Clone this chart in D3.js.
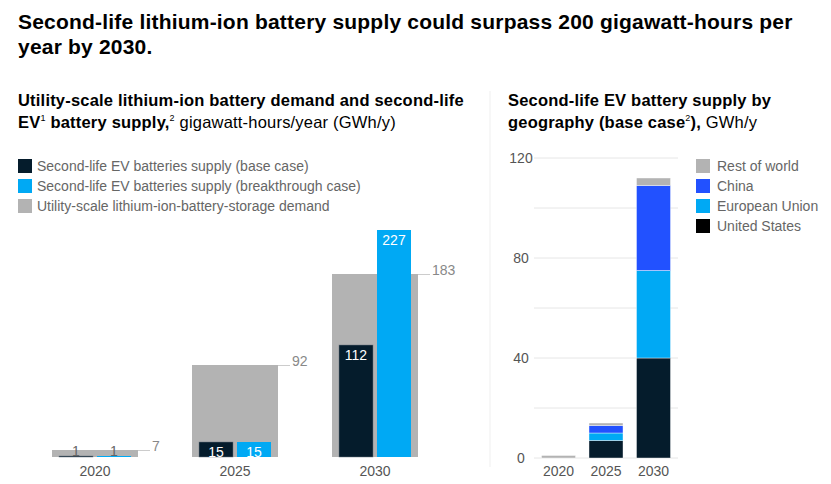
<!DOCTYPE html>
<html><head><meta charset="utf-8">
<script src="https://cdn.jsdelivr.net/npm/d3@7"></script>
<style>
body{margin:0;background:#fff;}
text{font-family:"Liberation Sans",Arial,sans-serif;}
</style></head>
<body><svg id="c" width="831" height="484"></svg>
<script>
// ---- data ----
const years = ["2020", "2025", "2030"];
const baseCase = [1, 15, 112];
const breakthroughCase = [1, 15, 227];
const storageDemand = [7, 92, 183];
const leftLegend = ["Second-life EV batteries supply (base case)", "Second-life EV batteries supply (breakthrough case)", "Utility-scale lithium-ion-battery-storage demand"];

const geoYears = ["2020", "2025", "2030"];
const unitedStates = [0, 7, 40];
const europeanUnion = [0, 3, 35];
const china = [0, 3, 34];
const restOfWorld = [1, 1, 3];
const geoLegend = ["Rest of world", "China", "European Union", "United States"];
const geoTicks = [0, 40, 80, 120];

const C = {navy:"#051c2c", blue:"#00a9f4", gray:"#b3b3b3", china:"#2251ff", us:"#000000"};

const svg = d3.select("#c");

// ---- titles ----
const t = svg.append("text").attr("font-size",21).attr("font-weight",700).attr("letter-spacing",0.2).attr("fill","#000");
t.append("tspan").attr("x",18).attr("y",29).text("Second-life lithium-ion battery supply could surpass 200 gigawatt-hours per");
t.append("tspan").attr("x",18).attr("y",54).text("year by 2030.");

const s1 = svg.append("text").attr("font-size",16.5).attr("letter-spacing",0.2).attr("fill","#000");
s1.append("tspan").attr("x",18).attr("y",106).attr("font-weight",700).text("Utility-scale lithium-ion battery demand and second-life");
s1.append("tspan").attr("x",18).attr("y",128).attr("font-weight",700).text("EV");
s1.append("tspan").attr("font-size",9).attr("dy",-7).text("1");
s1.append("tspan").attr("dy",7).attr("font-weight",700).text(" battery supply,");
s1.append("tspan").attr("font-size",9).attr("dy",-7).text("2");
s1.append("tspan").attr("dy",7).text(" gigawatt-hours/year (GWh/y)");

const s2 = svg.append("text").attr("font-size",16.5).attr("letter-spacing",0.2).attr("fill","#000");
s2.append("tspan").attr("x",508).attr("y",106).attr("font-weight",700).text("Second-life EV battery supply by");
s2.append("tspan").attr("x",508).attr("y",128).attr("font-weight",700).text("geography (base case");
s2.append("tspan").attr("font-size",9).attr("dy",-7).text("2");
s2.append("tspan").attr("dy",7).attr("font-weight",700).text("),");
s2.append("tspan").text(" GWh/y");

// divider
svg.append("line").attr("x1",490).attr("x2",490).attr("y1",91).attr("y2",467).attr("stroke","#efefef").attr("stroke-width",1);

// ---- left legend ----
const llg = svg.append("g");
const lcols = [C.navy, C.blue, C.gray];
leftLegend.forEach((d,i)=>{
  llg.append("rect").attr("x",18).attr("y",159+i*20).attr("width",14).attr("height",14).attr("fill",lcols[i]);
  llg.append("text").attr("x",37).attr("y",171+i*20).attr("font-size",14).attr("fill","#666").text(d);
});

// ---- left chart ----
const x0 = d3.scaleBand().domain(years).range([25,445]).paddingInner(0.3857).paddingOuter(0.1929);
const x1 = d3.scaleBand().domain(["base","break"]).range([7,79]).paddingInner(4/38);
const yL = d3.scaleLinear().domain([0,240]).range([457,217]);
const gl = svg.append("g");

years.forEach((yr,i)=>{
  const gx = x0(yr), bw = x0.bandwidth();
  gl.append("rect").attr("x",gx).attr("y",yL(storageDemand[i])).attr("width",bw).attr("height",yL(0)-yL(storageDemand[i])).attr("fill",C.gray);
  gl.append("line").attr("x1",gx+bw).attr("x2",gx+bw+12).attr("y1",yL(storageDemand[i])+0.5).attr("y2",yL(storageDemand[i])+0.5).attr("stroke","#cccccc");
  gl.append("text").attr("x",gx+bw+14).attr("y",yL(storageDemand[i])+1).attr("font-size",14).attr("fill","#888").text(storageDemand[i]);
  [[baseCase[i],"base",C.navy],[breakthroughCase[i],"break",C.blue]].forEach(([v,k,col])=>{
    const bx = gx + x1(k), by = yL(v);
    gl.append("rect").attr("x",bx).attr("y",by).attr("width",x1.bandwidth()).attr("height",yL(0)-by).attr("fill",col)
      .attr("stroke", k==="base" ? "#6b7680" : "none").attr("stroke-width",0.5);
    const inside = (yL(0)-by) > 12;
    gl.append("text").attr("x",bx+x1.bandwidth()/2).attr("y", inside ? by+15 : by).attr("text-anchor","middle")
      .attr("font-size",14).attr("fill", inside ? "#fff" : "#666").text(v);
  });
  gl.append("text").attr("x",gx+bw/2).attr("y",476).attr("text-anchor","middle").attr("font-size",14).attr("fill","#555").text(yr);
});

// ---- right chart ----
const xR = d3.scaleBand().domain(geoYears).range([534,678]).paddingInner(0.284).paddingOuter(0.158);
const yR = d3.scaleLinear().domain([0,120]).range([458,158]);
const gr = svg.append("g");
d3.range(0,121,20).forEach(v=>{
  gr.append("line").attr("x1",534).attr("x2",678).attr("y1",yR(v)).attr("y2",yR(v)).attr("stroke","#e6e6e6");
});
geoTicks.forEach(v=>{
  gr.append("text").attr("x",521).attr("y",yR(v)).attr("dy","0.35em").attr("text-anchor","middle").attr("font-size",14).attr("fill","#555").text(v);
});
const stackData = geoYears.map((yr,i)=>({year:yr, us:unitedStates[i], eu:europeanUnion[i], cn:china[i], row:restOfWorld[i]}));
const keys = ["us","eu","cn","row"];
const kcol = {us:C.navy, eu:C.blue, cn:C.china, row:C.gray};
const stacked = d3.stack().keys(keys)(stackData);
stacked.forEach(layer=>{
  layer.forEach(d=>{
    if (d[1]-d[0] <= 0) return;
    gr.append("rect").attr("x",xR(d.data.year)).attr("y",yR(d[1])).attr("width",xR.bandwidth()).attr("height",yR(d[0])-yR(d[1]))
      .attr("fill",kcol[layer.key]).attr("stroke","#fff").attr("stroke-width",0.4);
  });
});
geoYears.forEach(yr=>{
  gr.append("text").attr("x",xR(yr)+xR.bandwidth()/2).attr("y",476).attr("text-anchor","middle").attr("font-size",14).attr("fill","#555").text(yr);
});
const rcols = [C.gray, C.china, C.blue, C.us];
geoLegend.forEach((d,i)=>{
  gr.append("rect").attr("x",696).attr("y",159+i*20).attr("width",14).attr("height",14).attr("fill",rcols[i]);
  gr.append("text").attr("x",717).attr("y",171+i*20).attr("font-size",14).attr("fill","#666").text(d);
});
</script></body></html>
